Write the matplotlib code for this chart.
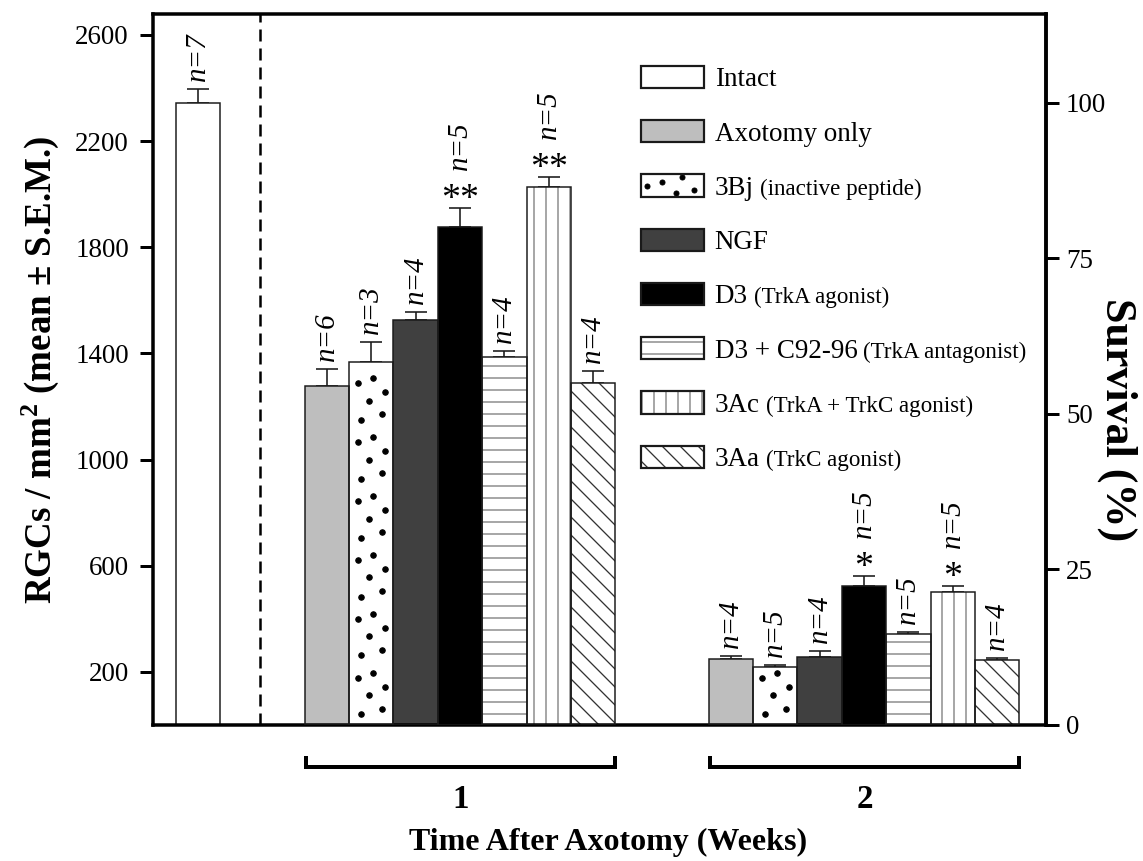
import matplotlib
matplotlib.use('Agg')
import matplotlib.pyplot as plt
import matplotlib.transforms as mtransforms
import matplotlib.hatch as mhatch
import numpy as np
from matplotlib.patches import Rectangle
from matplotlib.lines import Line2D
from matplotlib.legend_handler import HandlerBase

plt.rcParams['font.family'] = ['Liberation Serif', 'DejaVu Serif']
plt.rcParams['mathtext.fontset'] = 'custom'
plt.rcParams['mathtext.rm'] = 'Liberation Serif'
plt.rcParams['mathtext.bf'] = 'Liberation Serif:bold'
plt.rcParams['mathtext.it'] = 'Liberation Serif:italic'
plt.rcParams['hatch.linewidth'] = 1.3

# slightly denser diagonal hatch (closer to the original figure); even line count tiles seamlessly
try:
    class _DenseSE(mhatch.SouthEastHatch):
        def __init__(self, hatch, density):
            super().__init__(hatch, density)
            if self.num_lines:
                n = int(round(self.num_lines * 4 / 3))
                n += n % 2
                self.num_lines = n
                self.num_vertices = (self.num_lines + 1) * 2
    mhatch._hatch_types = [(_DenseSE if t is mhatch.SouthEastHatch else t) for t in mhatch._hatch_types]
except Exception:
    pass

# ---------------- data ----------------
treatments = ["Axotomy only", "3Bj", "NGF", "D3", "D3 + C92-96", "3Ac", "3Aa"]
notes = ["", "(inactive peptide)", "", "(TrkA agonist)", "(TrkA antagonist)",
         "(TrkA + TrkC agonist)", "(TrkC agonist)"]
weeks = ["1", "2"]
intact_mean = 2345
intact_sem = 50
intact_n = 7
week1_mean = [1276, 1366, 1525, 1876, 1385, 2027, 1287]
week1_sem = [67, 76, 30, 71, 23, 37, 45]
week1_n = [6, 3, 4, 5, 4, 5, 4]
week1_stars = ["", "", "", "**", "", "**", ""]
week2_mean = [249, 219, 257, 525, 343, 502, 245]
week2_sem = [11, 7, 22, 37, 8, 23, 8]
week2_n = [4, 5, 4, 5, 5, 5, 4]
week2_stars = ["", "", "", "*", "", "*", ""]
y_ticks = [200, 600, 1000, 1400, 1800, 2200, 2600]
surv_ticks = [0, 25, 50, 75, 100]

# ---------------- styles ----------------
faces = ['#bebebe', 'white', '#404040', 'black', 'white', 'white', 'white']
hatches = [None, None, None, None, '-', '|', '\\']
hatch_cols = [None, None, None, None, '#7a7a7a', '#7a7a7a', '#333333']
dotted = [False, True, False, False, False, False, False]
edge = '#1a1a1a'

DPI = 72
fig = plt.figure(figsize=(1143 / DPI, 861 / DPI), dpi=DPI)
ax = fig.add_axes([153 / 1143, 1 - 725 / 861, 893 / 1143, 711 / 861])

ymax = 2679
ax.set_ylim(0, ymax)
ax.set_xlim(-1.013, 19.10)

group_start = [2.9, 12.0]
group_means = [week1_mean, week2_mean]
group_sems = [week1_sem, week2_sem]
group_ns = [week1_n, week2_n]
group_stars = [week1_stars, week2_stars]

# dot texture (fill pattern of the 3Bj bars)
dot_dx = [0.27, 0.75, 0.45, 0.82, 0.20, 0.55]
dot_dy = [40, 60, 112, 143, 177, 196]
dot_period = 222


def dot_texture(xc, height):
    xs, ys = [], []
    k = 0
    while k * dot_period < height:
        for dx, dy in zip(dot_dx, dot_dy):
            yy = k * dot_period + dy
            if yy < height - 20:
                xs.append(xc - 0.5 + dx)
                ys.append(yy)
        k += 1
    ax.plot(xs, ys, ls='none', marker='o', ms=5.5, color='black', zorder=2.6)


def annotate_bar(xc, top, n, stars):
    if stars:
        ax.annotate(stars, xy=(xc, top), xytext=(0, -1), textcoords='offset points',
                    ha='center', va='baseline', fontsize=38, zorder=5)
        off = 38
    else:
        off = 8
    ax.annotate(f"n={n}", xy=(xc, top), xytext=(0, off), textcoords='offset points',
                rotation=90, ha='center', va='bottom', fontsize=29, style='italic', zorder=5)


def err(xc, m, s):
    ax.errorbar([xc], [m], yerr=[[0], [s]], fmt='none', ecolor=edge, elinewidth=1.6,
                capsize=11, capthick=1.6, zorder=1.5)


# intact bar
ax.bar([0], [intact_mean], width=1, color='white', edgecolor=edge, linewidth=1.5, zorder=2)
err(0, intact_mean, intact_sem)
annotate_bar(0, intact_mean + intact_sem, intact_n, "")

for g in range(2):
    xs = [group_start[g] + i for i in range(7)]
    means = group_means[g]
    sems = group_sems[g]
    for i in range(7):
        err(xs[i], means[i], sems[i])
    ax.bar(xs, means, width=1, color=faces, edgecolor='none', linewidth=0, zorder=2)
    for i in range(7):
        if hatches[i]:
            ax.bar([xs[i]], [means[i]], width=1, facecolor='none', edgecolor=hatch_cols[i],
                   hatch=hatches[i], linewidth=0, zorder=2.3)
        if dotted[i]:
            dot_texture(xs[i], means[i])
    ax.bar(xs, means, width=1, facecolor='none', edgecolor=edge, linewidth=1.5, zorder=3)
    for i in range(7):
        annotate_bar(xs[i], means[i] + sems[i], group_ns[g][i], group_stars[g][i])

# dashed separator
ax.axvline(1.4, color='black', lw=2.5, dashes=(4.8, 2.8), zorder=1)

# brackets + week labels
trans = mtransforms.blended_transform_factory(ax.transData, ax.transAxes)
for g in range(2):
    x0 = group_start[g] - 0.47
    x1 = group_start[g] + 6.5
    ax.plot([x0, x0, x1, x1], [-0.0436, -0.059, -0.059, -0.0436], transform=trans,
            color='black', lw=4, clip_on=False, solid_joinstyle='miter', solid_capstyle='butt')
    ax.text(group_start[g] + 3.02, -0.105, weeks[g], transform=trans, ha='center',
            va='center', fontsize=33, fontweight='bold')

ax.set_xlabel("Time After Axotomy (Weeks)", fontsize=32, fontweight='bold')
ax.xaxis.set_label_coords(0.51, -0.1646)
ax.xaxis.label.set_verticalalignment('center')

ax.set_ylabel(r"RGCs / mm$^{\mathbf{2}}$ (mean ± S.E.M.)", fontsize=37, fontweight='bold')
ax.yaxis.set_label_coords(-0.1265, 0.5)
ax.yaxis.label.set_verticalalignment('center')

ax.set_yticks(y_ticks)
ax.set_yticklabels([str(t) for t in y_ticks])
ax.tick_params(axis='y', direction='out', length=13, width=3, labelsize=27, pad=11)
ax.tick_params(axis='x', bottom=False, labelbottom=False)
for sp in ax.spines.values():
    sp.set_linewidth(3.5)

ax2 = ax.twinx()
ax2.set_ylim(0, ymax / intact_mean * 100)
ax2.set_yticks(surv_ticks)
ax2.set_yticklabels([str(t) for t in surv_ticks])
ax2.tick_params(axis='y', direction='out', length=13, width=3, labelsize=27, pad=7)
for k, sp in ax2.spines.items():
    sp.set_visible(k == 'right')
    sp.set_linewidth(3.5)
ax2.set_ylabel("Survival (%)", rotation=270, fontsize=44, fontweight='bold')
ax2.yaxis.set_label_coords(1.08, 0.43)
ax2.yaxis.label.set_verticalalignment('center')


# ---------------- legend ----------------
class BarKey:
    def __init__(self, face, hatch=None, hcolor=None, dots=False):
        self.face = face
        self.hatch = hatch
        self.hcolor = hcolor
        self.dots = dots


leg_dx = [0.09, 0.34, 0.65, 0.55, 0.85]
leg_dy = [0.49, 0.68, 0.87, 0.17, 0.30]


class HandlerBarKey(HandlerBase):
    def create_artists(self, legend, orig, xdescent, ydescent, width, height, fontsize, trans):
        x0, y0 = -xdescent, -ydescent
        arts = [Rectangle((x0, y0), width, height, facecolor=orig.face, edgecolor='none',
                          linewidth=0, transform=trans)]
        if orig.hatch:
            arts.append(Rectangle((x0, y0), width, height, facecolor='none', edgecolor=orig.hcolor,
                                  hatch=orig.hatch, linewidth=0, transform=trans))
        if orig.dots:
            arts.append(Line2D(x0 + width * np.array(leg_dx), y0 + height * np.array(leg_dy),
                               ls='none', marker='o', ms=5, color='black', transform=trans))
        arts.append(Rectangle((x0, y0), width, height, facecolor='none', edgecolor=edge,
                              linewidth=2.2, transform=trans))
        return arts


handles = [BarKey('white')] + [BarKey(faces[i], hatches[i], hatch_cols[i], dotted[i]) for i in range(7)]
labels = ["Intact"] + treatments
leg = ax.legend(handles, labels, handler_map={BarKey: HandlerBarKey()}, loc='upper left',
                bbox_to_anchor=(0.5465, 0.927), frameon=False, fontsize=27,
                handlelength=2.33, handleheight=0.89, handletextpad=0.4, labelspacing=1.03,
                borderpad=0, borderaxespad=0)
texts = leg.get_texts()
for i, note in enumerate(notes):
    if note:
        ax.annotate(note, xy=(1, 0), xycoords=texts[i + 1], xytext=(6, 1),
                    textcoords='offset points', ha='left', va='bottom', fontsize=23, zorder=7)

fig.savefig('out.png', dpi=DPI)
